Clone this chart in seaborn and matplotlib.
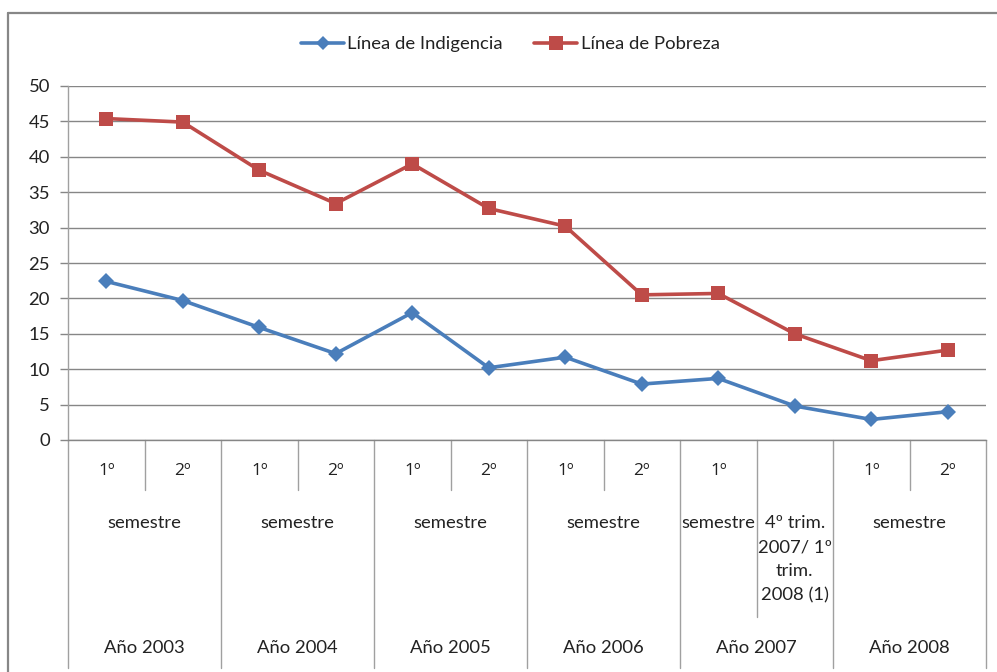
import matplotlib
matplotlib.use("Agg")
import matplotlib.pyplot as plt
import matplotlib.transforms as mtransforms
from matplotlib.lines import Line2D
import seaborn as sns
import pandas as pd

# ---- data ----
periods = ["2003 1º sem", "2003 2º sem", "2004 1º sem", "2004 2º sem",
           "2005 1º sem", "2005 2º sem", "2006 1º sem", "2006 2º sem",
           "2007 1º sem", "4º trim. 2007/1º trim. 2008", "2008 1º sem", "2008 2º sem"]
indigencia = [22.4, 19.7, 15.9, 12.2, 18.0, 10.2, 11.7, 7.9, 8.7, 4.8, 2.9, 4.0]
pobreza = [45.4, 44.9, 38.1, 33.4, 39.0, 32.7, 30.2, 20.5, 20.7, 15.0, 11.2, 12.7]
sub_labels = ["1º", "2º", "1º", "2º", "1º", "2º", "1º", "2º", "1º", "", "1º", "2º"]
year_labels = ["Año 2003", "Año 2004", "Año 2005", "Año 2006", "Año 2007", "Año 2008"]
series_names = ["Línea de Indigencia", "Línea de Pobreza"]
y_ticks = [0, 5, 10, 15, 20, 25, 30, 35, 40, 45, 50]

df = pd.DataFrame({
    "pos": list(range(len(periods))) * 2,
    "valor": indigencia + pobreza,
    "serie": [series_names[0]] * len(periods) + [series_names[1]] * len(periods),
})

sns.set_theme(style="white")
plt.rcParams["font.family"] = ["Lato", "DejaVu Sans"]

W, H = 997, 672
fig = plt.figure(figsize=(W / 100, H / 100), dpi=100)
L, R, T, B = 68, 986, 86, 440
ax = fig.add_axes([L / W, 1 - B / H, (R - L) / W, (B - T) / H])

blue = "#4A7EBB"
red = "#BE4B48"
palette = {series_names[0]: blue, series_names[1]: red}
sns.lineplot(data=df, x="pos", y="valor", hue="serie", style="serie",
             markers={series_names[0]: "D", series_names[1]: "s"}, dashes=False,
             palette=palette, linewidth=2.6, markersize=8, markeredgewidth=0,
             legend=False, ax=ax)
for ln in ax.get_lines():
    if ln.get_marker() == "D":
        ln.set_markersize(8.5)
    elif ln.get_marker() == "s":
        ln.set_markersize(10)

ax.set_xlim(-0.5, len(periods) - 0.5)
ax.set_ylim(0, 50)
ax.set_yticks(y_ticks)
ax.set_xticks([])
ax.set_xlabel("")
ax.set_ylabel("")
ax.grid(axis="y", color="#868686", linewidth=1.0)
ax.set_axisbelow(True)
for s in ["top", "right"]:
    ax.spines[s].set_visible(False)
ax.spines["left"].set_color("#A0A0A0")
ax.spines["left"].set_linewidth(1.0)
ax.spines["bottom"].set_color("#868686")
ax.spines["bottom"].set_linewidth(1.0)
ax.tick_params(axis="y", length=6, width=1.0, color="#868686", labelsize=13.3,
               labelcolor="#222222", pad=7, left=True)

trans = mtransforms.blended_transform_factory(ax.transData, fig.transFigure)
def fy(p):
    return 1 - p / H

sep_color = "#A0A0A0"
for k in range(len(year_labels) + 1):
    x = -0.5 + 2 * k
    ax.plot([x, x], [fy(B), fy(668)], transform=trans, color=sep_color, lw=1.0, clip_on=False)
for k in range(len(year_labels)):
    x = 0.5 + 2 * k
    bottom = 617 if year_labels[k] == "Año 2007" else 490
    ax.plot([x, x], [fy(B), fy(bottom)], transform=trans, color=sep_color, lw=1.0, clip_on=False)

fs = 13.3
tc = "#222222"
for i, lab in enumerate(sub_labels):
    if lab:
        ax.text(i, fy(471), lab, transform=trans, ha="center", va="center", fontsize=fs - 0.8,
                color=tc, family=["Open Sans", "DejaVu Sans"])
for k, ylab in enumerate(year_labels):
    xc = 2 * k + 0.5
    ax.text(xc, fy(648), ylab, transform=trans, ha="center", va="center", fontsize=fs, color=tc)
    if ylab == "Año 2007":
        ax.text(2 * k, fy(523), "semestre", transform=trans, ha="center", va="center", fontsize=fs, color=tc)
        ax.text(2 * k + 1, fy(515), "4º trim.\n2007/ 1º\ntrim.\n2008 (1)", transform=trans,
                ha="center", va="top", fontsize=fs, color=tc, linespacing=1.62)
    else:
        ax.text(xc, fy(523), "semestre", transform=trans, ha="center", va="center", fontsize=fs, color=tc)

fig.add_artist(Line2D([8 / W, 8 / W], [fy(13), 0], transform=fig.transFigure, color="#878787", lw=1.6))
fig.add_artist(Line2D([8 / W, 1], [fy(13), fy(13)], transform=fig.transFigure, color="#878787", lw=1.6))

handles = [Line2D([], [], color=blue, lw=2.6, marker="D", markersize=7.5, markeredgewidth=0),
           Line2D([], [], color=red, lw=2.6, marker="s", markersize=10, markeredgewidth=0)]
fig.legend(handles, series_names, loc="center", bbox_to_anchor=(0.512, fy(44)), ncol=2,
           frameon=False, fontsize=13.3, handlelength=2.3, handletextpad=0.2, columnspacing=1.7,
           labelcolor=tc)

fig.savefig("out.png", dpi=100)
